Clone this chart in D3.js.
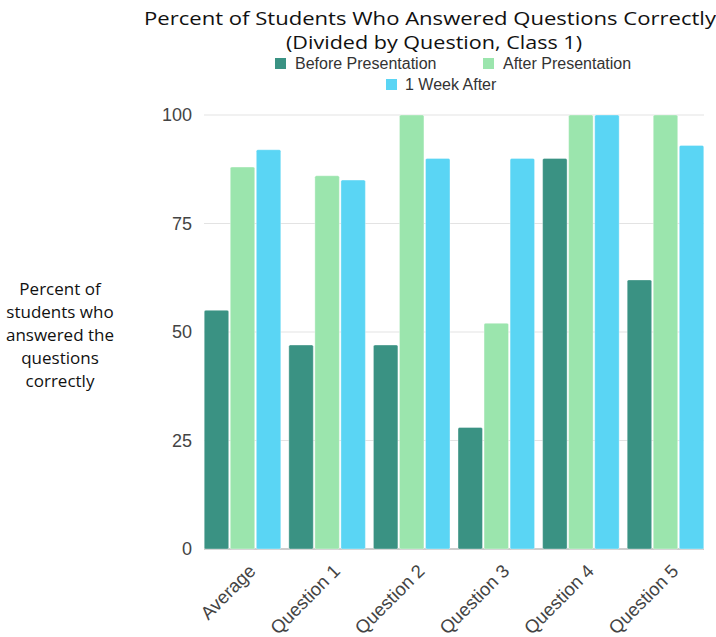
<!DOCTYPE html>
<html>
<head>
<meta charset="utf-8">
<script src="https://cdn.jsdelivr.net/npm/d3@7"></script>
<style>
	body { margin: 0; background: #fff; }
	svg { display: block; }
</style>
</head>
<body>
<script>
// chart data
var categories = ["Average", "Question 1", "Question 2", "Question 3", "Question 4", "Question 5"];
var seriesNames = ["Before Presentation", "After Presentation", "1 Week After"];
var beforeValues = [55, 47, 47, 28, 90, 62];
var afterValues = [88, 86, 100, 52, 100, 100];
var weekValues = [92, 85, 90, 90, 100, 93];
var yTicks = [0, 25, 50, 75, 100];
var colors = ["#3a9283", "#9be5ad", "#5ad5f4"];

var width = 716,
	height = 637;

var svg = d3.select("body")
	.append("svg")
	.attr("width", width)
	.attr("height", height);

var allValues = [beforeValues, afterValues, weekValues];

var x = d3.scaleBand()
	.domain(categories)
	.range([200, 708])
	.paddingInner(0.095)
	.paddingOuter(0.05);

var xSub = d3.scaleBand()
	.domain(d3.range(seriesNames.length))
	.range([0, x.bandwidth()])
	.paddingInner(0.06);

var y = d3.scaleLinear()
	.domain([0, 100])
	.range([549, 115]);

// gridlines
svg.append("g")
	.attr("class", "grid")
	.selectAll("line")
	.data(yTicks)
	.enter()
	.append("line")
	.attr("x1", 204)
	.attr("x2", 704)
	.attr("y1", function(d){ return y(d); })
	.attr("y2", function(d){ return y(d); })
	.attr("stroke", function(d){ return d === 0 ? "#bdbdbd" : "#e3e3e3"; })
	.attr("stroke-width", function(d){ return d === 0 ? 1.5 : 1; });

// y axis labels
var yAxis = d3.axisLeft(y)
	.tickValues(yTicks)
	.tickSize(0)
	.tickPadding(0);

svg.append("g")
	.attr("transform", "translate(192,0)")
	.call(yAxis)
	.call(function(g){ g.select(".domain").remove(); })
	.selectAll("text")
	.attr("font-family", "Liberation Sans, Arial, sans-serif")
	.attr("font-size", 18)
	.attr("fill", "#444");

// bars
var groups = svg.append("g")
	.selectAll("g")
	.data(categories)
	.enter()
	.append("g")
	.attr("transform", function(d){ return "translate(" + x(d) + ",0)"; });

groups.selectAll("rect")
	.data(function(d, i){
		return allValues.map(function(vals, s){ return {s: s, v: vals[i]}; });
	})
	.enter()
	.append("rect")
	.attr("x", function(d){ return xSub(d.s); })
	.attr("y", function(d){ return y(d.v); })
	.attr("width", xSub.bandwidth())
	.attr("height", function(d){ return y(0) - y(d.v); })
	.attr("rx", 1.5)
	.attr("fill", function(d){ return colors[d.s]; })
	.attr("stroke", "#ffffff")
	.attr("stroke-opacity", 0.35)
	.attr("stroke-width", 1);

// x axis labels
var xAxis = d3.axisBottom(x).tickSize(0).tickPadding(0);

var xg = svg.append("g")
	.attr("transform", "translate(0,563)")
	.call(xAxis);
xg.select(".domain").remove();
xg.selectAll("text")
	.attr("font-family", "Liberation Sans, Arial, sans-serif")
	.attr("font-size", 18.5)
	.attr("fill", "#444")
	.attr("text-anchor", "end")
	.attr("dy", "0.7em")
	.attr("transform", "translate(5,0) rotate(-45)");

// title
var title = svg.append("text")
	.attr("font-family", "Open Sans, sans-serif")
	.attr("font-weight", 500)
	.attr("font-size", 17.5)
	.attr("fill", "#111")
	.attr("text-anchor", "middle");
title.append("tspan")
	.attr("x", 430).attr("y", 25)
	.attr("textLength", 572)
	.attr("lengthAdjust", "spacingAndGlyphs")
	.text("Percent of Students Who Answered Questions Correctly");
title.append("tspan")
	.attr("x", 434).attr("y", 49)
	.attr("textLength", 296)
	.attr("lengthAdjust", "spacingAndGlyphs")
	.text("(Divided by Question, Class 1)");

// legend
var legendPos = [
	{sx: 275, sy: 58, tx: 295, ty: 69},
	{sx: 483, sy: 58, tx: 503, ty: 69},
	{sx: 386, sy: 79, tx: 405, ty: 90}
];

var legend = svg.append("g")
	.selectAll("g")
	.data(seriesNames)
	.enter()
	.append("g");

legend.append("rect")
	.attr("x", function(d, i){ return legendPos[i].sx; })
	.attr("y", function(d, i){ return legendPos[i].sy; })
	.attr("width", 11)
	.attr("height", 11)
	.attr("fill", function(d, i){ return colors[i]; });

legend.append("text")
	.attr("x", function(d, i){ return legendPos[i].tx; })
	.attr("y", function(d, i){ return legendPos[i].ty; })
	.attr("font-family", "Liberation Sans, Arial, sans-serif")
	.attr("font-size", 16)
	.attr("fill", "#333")
	.text(function(d){ return d; });

// y axis title
var yTitleLines = ["Percent of", "students who", "answered the", "questions", "correctly"];
svg.append("text")
	.attr("font-family", "Open Sans, sans-serif")
	.attr("font-weight", 500)
	.attr("font-size", 17)
	.attr("fill", "#111")
	.attr("text-anchor", "middle")
	.selectAll("tspan")
	.data(yTitleLines)
	.enter()
	.append("tspan")
	.attr("x", 60)
	.attr("y", function(d, i){ return 295 + i * 23; })
	.text(function(d){ return d; });
</script>
</body>
</html>
